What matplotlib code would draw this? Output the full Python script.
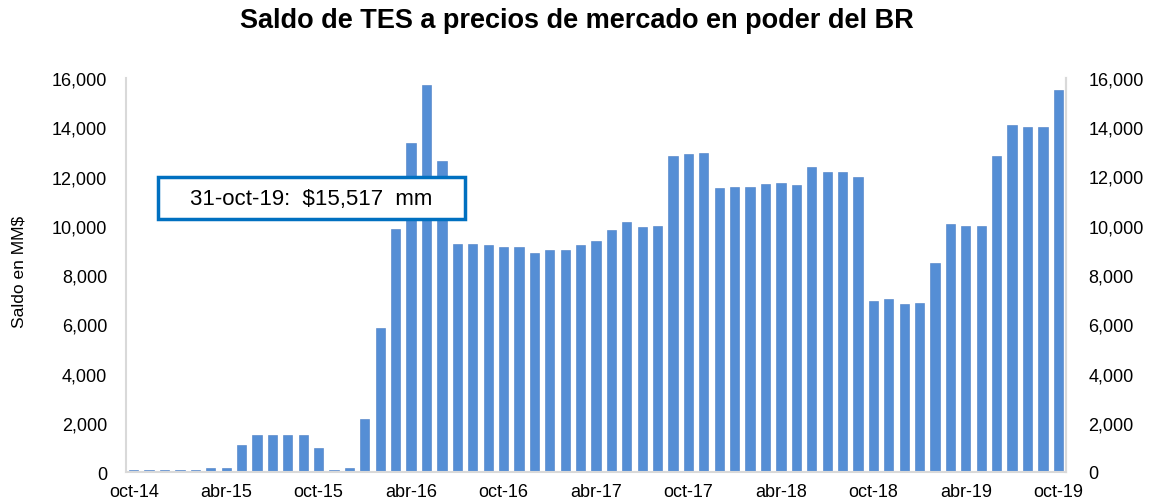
import matplotlib
matplotlib.use("Agg")
import matplotlib.pyplot as plt
from matplotlib.ticker import FuncFormatter, MultipleLocator
from matplotlib.patches import Rectangle

months = ["oct", "nov", "dic", "ene", "feb", "mar", "abr", "may", "jun", "jul", "ago", "sep"]
start_year = 14
n = 61
categories = []
for i in range(n):
    m = months[i % 12]
    yr = start_year + (i + 9) // 12
    categories.append(f"{m}-{yr}")

values = [100, 100, 100, 100, 100, 160, 160, 1110, 1520, 1520, 1520, 1520,
          980, 100, 160, 2170, 5830, 9860, 13380, 15715, 12610, 9275, 9275, 9200,
          9150, 9150, 8910, 9030, 9030, 9200, 9380, 9820, 10170, 9930, 9980, 12840,
          12895, 12960, 11540, 11590, 11590, 11715, 11755, 11650, 12370, 12190, 12190, 12000,
          6940, 7010, 6830, 6875, 8500, 10060, 9980, 9980, 12840, 14090, 14030, 14030,
          15517]

title = "Saldo de TES a precios de mercado en poder del BR"
ylabel = "Saldo en MM$"
annotation = "31-oct-19:  $15,517  mm"

plt.rcParams['font.family'] = ['Liberation Sans', 'DejaVu Sans']

fig = plt.figure(figsize=(11.61, 5.02), dpi=100)
ax = fig.add_axes([126/1161, 1 - 473/502, (1066-126)/1161, (473-79)/502])

x = list(range(n))
ax.bar(x, values, width=0.6, color="#558ED5", edgecolor="#4A7EC4", linewidth=0.4)

ax.set_xlim(-0.5, n - 0.5)
ax.set_ylim(0, 16000)
ax.yaxis.set_major_locator(MultipleLocator(2000))
fmt = FuncFormatter(lambda v, p: f"{int(v):,}")
ax.yaxis.set_major_formatter(fmt)

tick_pos = list(range(0, n, 6))
ax.set_xticks(tick_pos)
ax.set_xticklabels([categories[i] for i in tick_pos])

ax.spines["top"].set_visible(False)
for s in ["left", "right", "bottom"]:
    ax.spines[s].set_color("#D9D9D9")
    ax.spines[s].set_linewidth(1.5)

ax.tick_params(axis="both", length=0, labelsize=13, colors="black")
ax.tick_params(axis="x", pad=8)
ax.tick_params(axis="y", pad=13.5)

ax2 = ax.twinx()
ax2.set_ylim(0, 16000)
ax2.yaxis.set_major_locator(MultipleLocator(2000))
ax2.yaxis.set_major_formatter(fmt)
ax2.tick_params(axis="y", length=0, labelsize=13, pad=16)
for s in ["top", "left", "bottom"]:
    ax2.spines[s].set_visible(False)
ax2.spines["right"].set_color("#D9D9D9")
ax2.spines["right"].set_linewidth(1.5)

fig.text(19/1161, 1 - 272/502, ylabel, rotation=90, ha="center", va="center",
         fontsize=12.5)

fig.text(577/1161, 1 - 21/502, title, ha="center", va="center", fontsize=19.5,
         fontweight="bold")

fig.patches.append(Rectangle((158/1161, 1 - 220/502), 307/1161, 42/502,
                             transform=fig.transFigure, facecolor="white",
                             edgecolor="#0070C0", linewidth=2.5, zorder=5))
fig.text(311/1161, 1 - 200/502, annotation, ha="center", va="center", fontsize=16,
         zorder=6)

fig.savefig("out.png", dpi=100)
